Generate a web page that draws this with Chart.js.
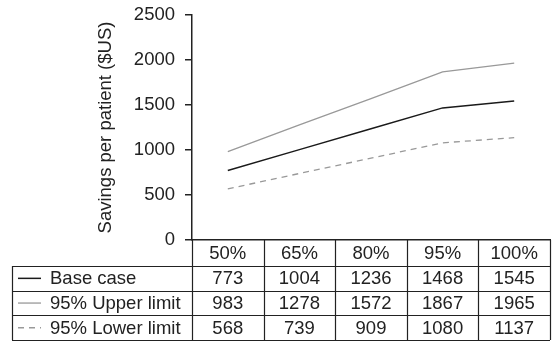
<!DOCTYPE html>
<html>
<head>
<meta charset="utf-8">
<script src="https://cdn.jsdelivr.net/npm/chart.js@4/dist/chart.umd.min.js"></script>
<style>
  html, body { margin: 0; padding: 0; background: #fff; }
  #chart { display: block; }
</style>
</head>
<body>
<canvas id="chart" width="554" height="341"></canvas>
<script>
const categories = ['50%', '65%', '80%', '95%', '100%'];
const baseCase = [773, 1004, 1236, 1468, 1545];
const upperLimit = [983, 1278, 1572, 1867, 1965];
const lowerLimit = [568, 739, 909, 1080, 1137];
const yTicks = [0, 500, 1000, 1500, 2000, 2500];

const FONT = '"Liberation Sans", Arial, Helvetica, sans-serif';
const FSIZE = 18.5;
const INK = '#222';

// table rows under the x axis, drawn after the chart
const tablePlugin = {
    id: 'dataTable',
    afterDraw(chart) {
        const ctx = chart.ctx;
        const x = chart.scales.x;
        const area = chart.chartArea;
        const rowTop = 266, rowH = 24.7, leftEdge = 12;
        const nRows = chart.data.datasets.length;
        const bottom = rowTop + rowH * nRows;
        const step = x.getPixelForValue(1) - x.getPixelForValue(0);

        ctx.save();
        ctx.strokeStyle = INK;
        ctx.lineWidth = 1.2;
        ctx.beginPath();
        // vertical column lines
        for (let i = 0; i <= categories.length; i++) {
            const px = Math.round(x.getPixelForValue(0) - step / 2 + step * i) + 0.5;
            ctx.moveTo(px, area.bottom);
            ctx.lineTo(px, bottom);
        }
        ctx.moveTo(leftEdge + 0.5, rowTop);
        ctx.lineTo(leftEdge + 0.5, bottom);
        // horizontal row lines
        for (let r = 0; r <= nRows; r++) {
            const py = Math.round(rowTop + rowH * r) + 0.5;
            ctx.moveTo(leftEdge, py);
            ctx.lineTo(area.right, py);
        }
        ctx.stroke();

        ctx.font = FSIZE + 'px ' + FONT;
        ctx.fillStyle = INK;
        ctx.textBaseline = 'middle';
        chart.data.datasets.forEach((ds, r) => {
            const cy = rowTop + rowH * r + rowH / 2 + 1;
            // legend sample
            ctx.save();
            ctx.strokeStyle = ds.borderColor;
            ctx.lineWidth = ds.borderWidth;
            ctx.setLineDash(ds.borderDash || []);
            ctx.beginPath();
            ctx.moveTo(18, cy - 1);
            ctx.lineTo(41, cy - 1);
            ctx.stroke();
            ctx.restore();
            ctx.textAlign = 'left';
            ctx.fillText(ds.label, 50, cy);
            ctx.textAlign = 'center';
            ds.data.forEach((v, i) => {
                ctx.fillText(String(v), x.getPixelForValue(i), cy);
            });
        });
        ctx.restore();
    }
};

new Chart('chart', {
    type: 'line',
    data: {
        labels: categories,
        datasets: [
            {
                label: 'Base case',
                data: baseCase,
                borderColor: '#1a1a1a',
                borderWidth: 1.5,
                pointRadius: 0,
                tension: 0
            },
            {
                label: '95% Upper limit',
                data: upperLimit,
                borderColor: '#999999',
                borderWidth: 1.3,
                pointRadius: 0,
                tension: 0
            },
            {
                label: '95% Lower limit',
                data: lowerLimit,
                borderColor: '#999999',
                borderWidth: 1.3,
                borderDash: [6, 5],
                pointRadius: 0,
                tension: 0
            }
        ]
    },
    options: {
        responsive: false,
        animation: false,
        devicePixelRatio: 1,
        layout: { padding: { top: 15, right: 4, bottom: 75, left: 0 } },
        plugins: {
            legend: { display: false },
            tooltip: { enabled: false }
        },
        scales: {
            x: {
                type: 'category',
                offset: true,
                grid: { display: true, drawOnChartArea: false, drawTicks: false },
                border: { display: true, color: INK, width: 1.5 },
                ticks: {
                    color: INK,
                    padding: 3,
                    maxRotation: 0,
                    font: { family: FONT, size: FSIZE }
                },
                afterFit(scale) {
                    scale.height = 26;
                    scale.paddingLeft = 0;
                    scale.paddingRight = 0;
                }
            },
            y: {
                min: 0,
                max: 2500,
                afterBuildTicks(scale) { scale.ticks = yTicks.map(v => ({ value: v })); },
                grid: { drawOnChartArea: false, tickLength: 7, color: INK, lineWidth: 1.5 },
                border: { display: true, color: INK, width: 1.5 },
                ticks: {
                    color: INK,
                    padding: 10,
                    callback: v => String(v),
                    font: { family: FONT, size: FSIZE }
                },
                title: {
                    display: true,
                    text: 'Savings per patient ($US)',
                    color: INK,
                    padding: { top: 95, bottom: 0 },
                    font: { family: FONT, size: FSIZE }
                },
                afterFit(scale) {
                    scale.width = 192;
                    scale.paddingTop = 0;
                    scale.paddingBottom = 0;
                }
            }
        }
    },
    plugins: [tablePlugin]
});
</script>
</body>
</html>
